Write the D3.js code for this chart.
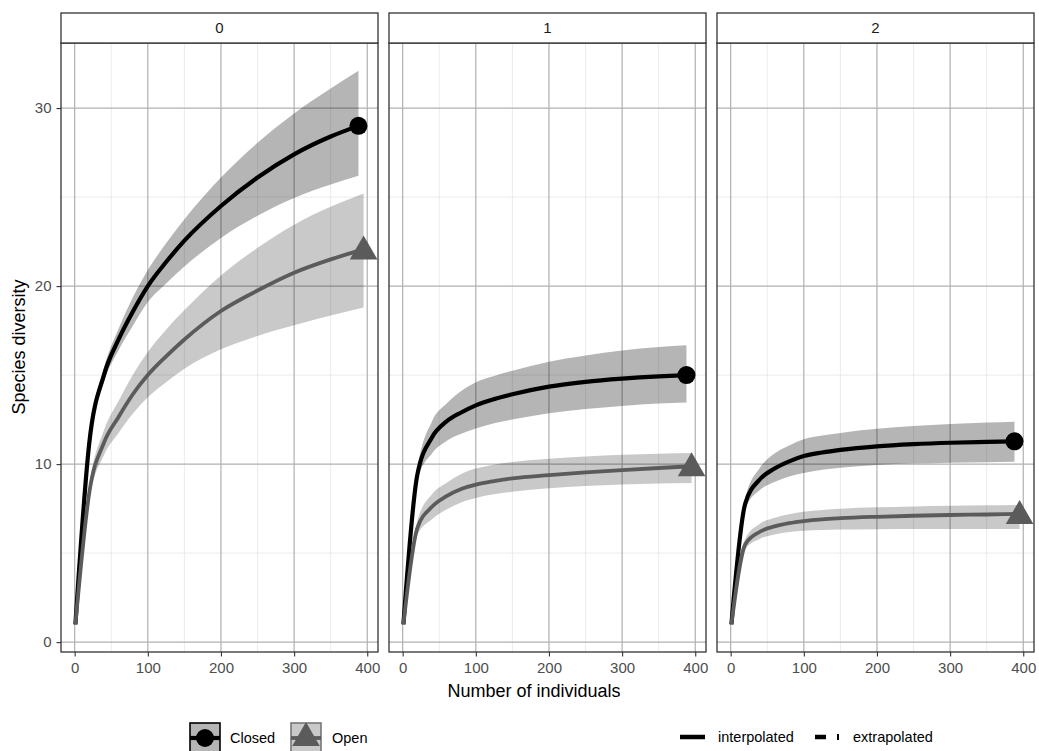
<!DOCTYPE html>
<html><head><meta charset="utf-8">
<script src="https://cdn.jsdelivr.net/npm/d3@7"></script>
<style>body{margin:0;background:#fff} text{font-family:"Liberation Sans",Arial,sans-serif}</style>
</head><body><svg id="c" width="1039" height="751"></svg>
<script>
// ---- data ----
const orders = ["0", "1", "2"];
const assemblages = ["Closed", "Open"];
const methods = ["interpolated", "extrapolated"];
const sizeClosed = [1, 20, 40, 60, 80, 100, 125, 150, 200, 250, 300, 350, 388];
const sizeOpen   = [1, 20, 40, 60, 80, 100, 125, 150, 200, 250, 300, 350, 395];

const closedQ0   = [1, 11.2, 15.0, 17.0, 18.6, 20.0, 21.35, 22.55, 24.5, 26.1, 27.4, 28.4, 29.0];
const closedQ0Lo = [1, 10.9, 14.6, 16.4, 17.8, 19.1, 20.15, 21.1, 22.7, 23.95, 24.95, 25.7, 26.2];
const closedQ0Hi = [1, 11.5, 15.4, 17.6, 19.4, 20.9, 22.4, 23.75, 26.1, 28.05, 29.7, 31.1, 32.1];
const openQ0     = [1, 8.4, 11.2, 12.65, 13.95, 15.0, 16.05, 17.0, 18.6, 19.75, 20.75, 21.5, 22.06];
const openQ0Lo   = [1, 8.0, 10.5, 11.75, 12.85, 13.75, 14.6, 15.35, 16.45, 17.2, 17.8, 18.35, 18.8];
const openQ0Hi   = [1, 8.8, 11.9, 13.55, 15.05, 16.3, 17.55, 18.65, 20.6, 22.15, 23.45, 24.45, 25.2];

const closedQ1   = [1, 9.4, 11.5, 12.4, 12.9, 13.3, 13.65, 13.92, 14.35, 14.62, 14.8, 14.93, 15.0];
const closedQ1Lo = [1, 9.1, 10.6, 11.3, 11.7, 12.0, 12.3, 12.5, 12.85, 13.1, 13.27, 13.4, 13.46];
const closedQ1Hi = [1, 9.7, 12.4, 13.4, 14.1, 14.6, 14.95, 15.25, 15.75, 16.1, 16.38, 16.58, 16.68];
const openQ1     = [1, 6.4, 7.6, 8.2, 8.6, 8.85, 9.05, 9.2, 9.38, 9.53, 9.66, 9.78, 9.88];
const openQ1Lo   = [1, 6.0, 6.9, 7.45, 7.85, 8.1, 8.3, 8.45, 8.65, 8.77, 8.85, 8.91, 8.94];
const openQ1Hi   = [1, 6.8, 8.3, 8.95, 9.45, 9.75, 9.97, 10.12, 10.3, 10.43, 10.52, 10.58, 10.62];

const closedQ2   = [1, 7.8, 9.15, 9.75, 10.15, 10.45, 10.65, 10.8, 11.0, 11.12, 11.2, 11.25, 11.28];
const closedQ2Lo = [1, 7.5, 8.55, 9.0, 9.3, 9.5, 9.68, 9.8, 9.95, 10.03, 10.08, 10.11, 10.13];
const closedQ2Hi = [1, 8.1, 9.8, 10.6, 11.05, 11.4, 11.6, 11.75, 11.98, 12.14, 12.25, 12.33, 12.38];
const openQ2     = [1, 5.5, 6.2, 6.5, 6.68, 6.8, 6.9, 6.96, 7.04, 7.1, 7.14, 7.17, 7.2];
const openQ2Lo   = [1, 5.2, 5.8, 6.05, 6.18, 6.26, 6.3, 6.32, 6.34, 6.35, 6.36, 6.36, 6.36];
const openQ2Hi   = [1, 5.8, 6.65, 6.98, 7.18, 7.32, 7.42, 7.49, 7.57, 7.62, 7.66, 7.69, 7.71];

const xTicks = [0, 100, 200, 300, 400];
const yTicks = [0, 10, 20, 30];
const xTitle = "Number of individuals";
const yTitle = "Species diversity";

// ---- build table ----
const table = {
  "0": {Closed: [closedQ0, closedQ0Lo, closedQ0Hi], Open: [openQ0, openQ0Lo, openQ0Hi]},
  "1": {Closed: [closedQ1, closedQ1Lo, closedQ1Hi], Open: [openQ1, openQ1Lo, openQ1Hi]},
  "2": {Closed: [closedQ2, closedQ2Lo, closedQ2Hi], Open: [openQ2, openQ2Lo, openQ2Hi]}
};
const sizes = {Closed: sizeClosed, Open: sizeOpen};
function rows(order, asm) {
  const [m, lo, hi] = table[order][asm];
  return sizes[asm].map((n, i) => ({n, y: m[i], lo: lo[i], hi: hi[i]}));
}

const style = {
  Closed: {line: "#000000", band: "rgba(0,0,0,0.29)", lw: 4.2},
  Open: {line: "#5b5b5b", band: "rgba(0,0,0,0.21)", lw: 3.8}
};

// ---- layout ----
const svg = d3.select("#c");
const panelW = 317, gap = 11, left0 = 61, panelTop = 43, panelH = 609, stripH = 30;

const allN = sizeClosed.concat(sizeOpen);
const allY = [].concat(...orders.map(o => assemblages.flatMap(a => table[o][a].flat())));
function expand([a, b]) { const d = (b - a) * 0.05; return [a - d, b + d]; }
const x = d3.scaleLinear().domain(expand(d3.extent(allN))).range([0, panelW]);
const y = d3.scaleLinear().domain(expand(d3.extent(allY))).range([panelH, 0]);

const mids = t => t.slice(1).map((v, i) => (v + t[i]) / 2);
const xMinor = mids(xTicks), yMinor = mids(yTicks);

const area = d3.area().x(d => x(d.n)).y0(d => y(d.lo)).y1(d => y(d.hi)).curve(d3.curveMonotoneX);
const line = d3.line().x(d => x(d.n)).y(d => y(d.y)).curve(d3.curveMonotoneX);

orders.forEach((o, pi) => {
  const g = svg.append("g").attr("transform", `translate(${left0 + pi * (panelW + gap)},${panelTop})`);
  // minor grid
  g.selectAll(".vx").data(xMinor).join("line").attr("x1", x).attr("x2", x).attr("y1", 0).attr("y2", panelH)
    .attr("stroke", "#e6e6e6").attr("stroke-width", 0.8);
  g.selectAll(".hy").data(yMinor).join("line").attr("y1", y).attr("y2", y).attr("x1", 0).attr("x2", panelW)
    .attr("stroke", "#e6e6e6").attr("stroke-width", 0.8);
  // major grid
  g.selectAll(".vX").data(xTicks).join("line").attr("x1", x).attr("x2", x).attr("y1", 0).attr("y2", panelH)
    .attr("stroke", "#b0b0b0").attr("stroke-width", 1.2);
  g.selectAll(".hY").data(yTicks).join("line").attr("y1", y).attr("y2", y).attr("x1", 0).attr("x2", panelW)
    .attr("stroke", "#b0b0b0").attr("stroke-width", 1.2);

  assemblages.forEach(a => {
    g.append("path").datum(rows(o, a)).attr("d", area).attr("fill", style[a].band);
  });
  assemblages.forEach(a => {
    g.append("path").datum(rows(o, a)).attr("d", line).attr("fill", "none")
      .attr("stroke", style[a].line).attr("stroke-width", style[a].lw).attr("stroke-linejoin", "round");
  });
  // end points
  const c = rows(o, "Closed"), last = c[c.length - 1];
  g.append("circle").attr("cx", x(last.n)).attr("cy", y(last.y)).attr("r", 9).attr("fill", "#000");
  const op = rows(o, "Open"), lo = op[op.length - 1];
  g.append("path").attr("d", d3.symbol(d3.symbolTriangle, 330)())
    .attr("transform", `translate(${x(lo.n)},${y(lo.y) + 2})`).attr("fill", style.Open.line);

  // border
  g.append("rect").attr("x", 0).attr("y", 0).attr("width", panelW).attr("height", panelH)
    .attr("fill", "none").attr("stroke", "#333").attr("stroke-width", 1.3);
  // strip
  g.append("rect").attr("x", 0).attr("y", -stripH).attr("width", panelW).attr("height", stripH)
    .attr("fill", "#fff").attr("stroke", "#333").attr("stroke-width", 1.3);
  g.append("text").attr("x", panelW / 2).attr("y", -stripH / 2).attr("dy", "0.35em")
    .attr("text-anchor", "middle").attr("font-size", 15).attr("fill", "#1a1a1a").text(o);

  // x axis
  const ax = g.append("g").attr("transform", `translate(0,${panelH})`)
    .call(d3.axisBottom(x).tickValues(xTicks).tickSize(4.5).tickPadding(6));
  ax.select(".domain").remove();
  ax.selectAll("line").attr("stroke", "#333").attr("stroke-width", 1.1);
  ax.selectAll("text").attr("font-size", 15).attr("fill", "#4d4d4d").attr("font-family", "Liberation Sans, Arial, sans-serif");

  if (pi === 0) {
    const ay = g.append("g").call(d3.axisLeft(y).tickValues(yTicks).tickSize(4.5).tickPadding(5));
    ay.select(".domain").remove();
    ay.selectAll("line").attr("stroke", "#333").attr("stroke-width", 1.1);
    ay.selectAll("text").attr("font-size", 15).attr("fill", "#4d4d4d").attr("font-family", "Liberation Sans, Arial, sans-serif");
  }
});

// axis titles
svg.append("text").attr("x", 534).attr("y", 697).attr("text-anchor", "middle")
  .attr("font-size", 18).attr("fill", "#000").text(xTitle);
svg.append("text").attr("transform", "translate(25,347) rotate(-90)").attr("text-anchor", "middle")
  .attr("font-size", 18).attr("fill", "#000").text(yTitle);

// legend: assemblages
const keyY = 723, keyS = 30;
const lg = svg.append("g");
const keys = [{a: "Closed", x: 190, tx: 230}, {a: "Open", x: 291, tx: 332}];
keys.forEach(k => {
  const s = style[k.a];
  lg.append("rect").attr("x", k.x).attr("y", keyY).attr("width", keyS).attr("height", keyS)
    .attr("fill", s.band).attr("stroke", k.a === "Closed" ? "#000" : "#777").attr("stroke-width", 1.6);
  lg.append("line").attr("x1", k.x).attr("x2", k.x + keyS).attr("y1", keyY + keyS / 2).attr("y2", keyY + keyS / 2)
    .attr("stroke", s.line).attr("stroke-width", s.lw);
  if (k.a === "Closed") {
    lg.append("circle").attr("cx", k.x + keyS / 2).attr("cy", keyY + keyS / 2).attr("r", 9).attr("fill", "#000");
  } else {
    lg.append("path").attr("d", d3.symbol(d3.symbolTriangle, 330)())
      .attr("transform", `translate(${k.x + keyS / 2},${keyY + keyS / 2})`).attr("fill", s.line);
  }
  lg.append("text").attr("x", k.tx).attr("y", keyY + keyS / 2).attr("dy", "0.35em")
    .attr("font-size", 14.5).attr("fill", "#000").text(k.a);
});

// legend: methods
const my = 737;
lg.append("line").attr("x1", 680).attr("x2", 705).attr("y1", my).attr("y2", my).attr("stroke", "#000").attr("stroke-width", 4.5);
lg.append("text").attr("x", 718).attr("y", my).attr("dy", "0.35em").attr("font-size", 14.5).text(methods[0]);
lg.append("line").attr("x1", 815).attr("x2", 826).attr("y1", my).attr("y2", my).attr("stroke", "#000").attr("stroke-width", 4.5);
lg.append("line").attr("x1", 838).attr("x2", 838).attr("y1", my - 3).attr("y2", my + 3).attr("stroke", "#000").attr("stroke-width", 2);
lg.append("text").attr("x", 853).attr("y", my).attr("dy", "0.35em").attr("font-size", 14.5).text(methods[1]);
</script></body></html>
